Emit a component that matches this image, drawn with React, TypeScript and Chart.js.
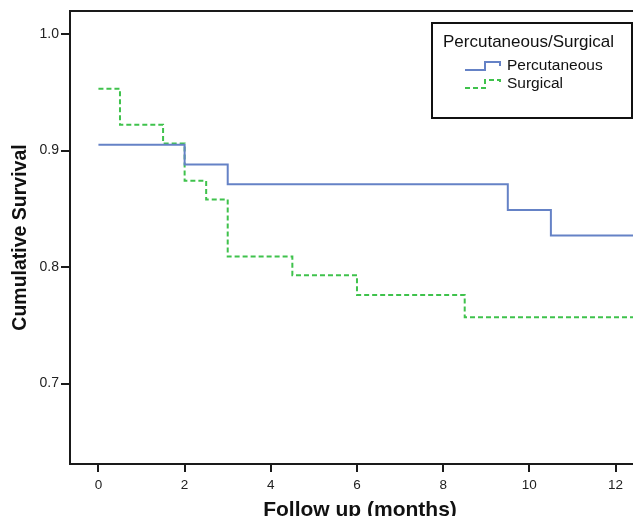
import { useEffect, useRef } from "react";
import { Chart, registerables } from "chart.js";

Chart.register(...registerables);

const legendTitle = "Percutaneous/Surgical";
const seriesNames = ["Percutaneous", "Surgical"];
const percTimes = [0, 2, 3, 9.5, 10.5, 13];
const percSurvival = [0.905, 0.888, 0.871, 0.849, 0.827, 0.827];
const surgTimes = [0, 0.5, 1.5, 2, 2.5, 3, 4.5, 6, 8.5, 13];
const surgSurvival = [0.953, 0.922, 0.906, 0.874, 0.858, 0.809, 0.793, 0.776, 0.757, 0.757];
const xTicks = [0, 2, 4, 6, 8, 10, 12];
const yTicks = [0.7, 0.8, 0.9, 1.0];
const xTitle = "Follow up (months)";
const yTitle = "Cumulative Survival";

const BLUE = "#6582c6";
const GREEN = "#3fc24c";
const FONT = '"Liberation Sans", Arial, Helvetica, sans-serif';

const framePlugin = {
  id: "frameTop",
  afterDraw(chart: any) {
    const { ctx, chartArea } = chart;
    ctx.save();
    ctx.strokeStyle = "#1a1a1a";
    ctx.lineWidth = 2;
    ctx.beginPath();
    ctx.moveTo(chartArea.left, chartArea.top);
    ctx.lineTo(chartArea.right, chartArea.top);
    ctx.stroke();
    ctx.restore();
  },
};

const legendPlugin = {
  id: "kmLegend",
  afterDraw(chart: any) {
    const { ctx } = chart;
    ctx.save();
    ctx.fillStyle = "#ffffff";
    ctx.fillRect(432, 23, 200, 95);
    ctx.strokeStyle = "#111";
    ctx.lineWidth = 2;
    ctx.strokeRect(432, 23, 200, 95);
    ctx.fillStyle = "#111";
    ctx.textBaseline = "alphabetic";
    ctx.font = `17px ${FONT}`;
    ctx.fillText(legendTitle, 443, 47);
    ctx.font = `15.5px ${FONT}`;
    chart.data.datasets.forEach((ds: any, i: number) => {
      const base = 70 + i * 18;
      ctx.save();
      ctx.strokeStyle = ds.borderColor;
      ctx.lineWidth = 2;
      ctx.setLineDash(ds.borderDash || []);
      ctx.beginPath();
      ctx.moveTo(465, base);
      ctx.lineTo(485, base);
      ctx.lineTo(485, base - 8);
      ctx.lineTo(500, base - 8);
      ctx.lineTo(500, base - 4);
      ctx.stroke();
      ctx.restore();
      ctx.fillStyle = "#111";
      ctx.fillText(ds.label, 507, base);
    });
    ctx.restore();
  },
};

export default function App() {
  const ref = useRef<HTMLCanvasElement | null>(null);
  useEffect(() => {
    if (!ref.current) return;
    const chart = new Chart(ref.current, {
      type: "line",
      data: {
        datasets: [
          {
            label: seriesNames[0],
            data: percTimes.map((t, i) => ({ x: t, y: percSurvival[i] })),
            borderColor: BLUE,
            borderWidth: 2,
            stepped: "before",
            pointRadius: 0,
            fill: false,
          },
          {
            label: seriesNames[1],
            data: surgTimes.map((t, i) => ({ x: t, y: surgSurvival[i] })),
            borderColor: GREEN,
            borderWidth: 2,
            borderDash: [5, 3],
            stepped: "before",
            pointRadius: 0,
            fill: false,
          },
        ],
      },
      options: {
        animation: false,
        responsive: false,
        maintainAspectRatio: false,
        layout: { padding: { top: 11, right: 0, left: 0, bottom: 0 } },
        plugins: { legend: { display: false }, tooltip: { enabled: false } },
        scales: {
          x: {
            type: "linear",
            min: -0.66,
            max: 12.8,
            afterFit(scale: any) {
              scale.height = 52;
            },
            afterBuildTicks(scale: any) {
              scale.ticks = xTicks.map((v) => ({ value: v }));
            },
            border: { display: true, color: "#1a1a1a", width: 2 },
            grid: {
              display: true,
              drawOnChartArea: false,
              drawTicks: true,
              tickLength: 8,
              color: "#1a1a1a",
              lineWidth: 2,
            },
            ticks: {
              color: "#222",
              font: { family: FONT, size: 13.5 },
              padding: 5,
              maxRotation: 0,
              callback: (v: any) => String(v),
            },
            title: {
              display: true,
              text: xTitle,
              color: "#111",
              font: { family: FONT, size: 21, weight: "bold" },
              padding: { top: 0, bottom: -7 },
            },
          },
          y: {
            type: "linear",
            min: 0.631,
            max: 1.0197,
            afterFit(scale: any) {
              scale.width = 70;
            },
            afterBuildTicks(scale: any) {
              scale.ticks = yTicks.map((v) => ({ value: v }));
            },
            border: { display: true, color: "#1a1a1a", width: 2 },
            grid: {
              display: true,
              drawOnChartArea: false,
              drawTicks: true,
              tickLength: 9,
              color: "#1a1a1a",
              lineWidth: 2,
            },
            ticks: {
              color: "#222",
              font: { family: FONT, size: 14 },
              padding: 2,
              callback: (v: any) => Number(v).toFixed(1),
            },
            title: {
              display: true,
              text: yTitle,
              color: "#111",
              font: { family: FONT, size: 19.5, weight: "bold" },
              padding: { top: 9, bottom: 0 },
            },
          },
        },
      },
      plugins: [framePlugin, legendPlugin],
    });
    return () => chart.destroy();
  }, []);
  return (
    <div
      style={{
        position: "fixed",
        left: 0,
        top: 0,
        width: 633,
        height: 516,
        overflow: "hidden",
        background: "#fff",
      }}
    >
      <div style={{ width: 650, height: 516 }}>
        <canvas ref={ref} width={650} height={516} style={{ display: "block" }} />
      </div>
    </div>
  );
}
